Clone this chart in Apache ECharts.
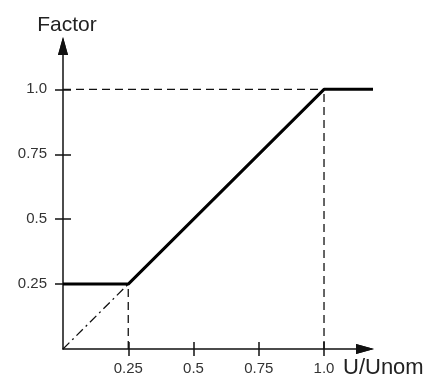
<html lang="en">

<head>
  <meta charset="utf-8">
  <title>Factor vs U/Unom</title>
  <script src="https://cdn.jsdelivr.net/npm/echarts@6/dist/echarts.min.js"></script>
  <style>
    body { margin: 0; background: #fff; }
    #chart { width: 431px; height: 379px; }
  </style>
</head>

<body>
  <div id="chart"></div>
</body>

<script>
  // characteristic curve
  var factorX = [0, 0.25, 1.0, 1.19];
  var factorY = [0.25, 0.25, 1.0, 1.0];

  // dashed guide lines
  var guideTopX = [0, 1.0];
  var guideTopY = [1.0, 1.0];
  var guideRightX = [1.0, 1.0];
  var guideRightY = [0, 1.0];
  var guideLeftX = [0.25, 0.25];
  var guideLeftY = [0, 0.25];

  // dash-dot diagonal
  var diagX = [0, 0.25];
  var diagY = [0, 0.25];

  var tickValues = [0.25, 0.5, 0.75, 1.0];

  function pairs(xs, ys) {
    return xs.map(function (x, i) { return [x, ys[i]]; });
  }

  var font = 'Liberation Sans, Arial, sans-serif';
  var fmt = function (v) { return v === 1 ? '1.0' : String(v); };

  var plot = echarts.init(document.getElementById('chart'));

  // second axis of each pair only draws the inner half of the ticks
  function xAxisDef(inside) {
    return {
      type: 'value', min: 0, max: 1.18, position: 'bottom',
      name: inside ? '' : 'U/Unom',
      nameLocation: 'end',
      nameGap: -28,
      nameTextStyle: {
        fontFamily: font, fontSize: 22, color: '#222',
        align: 'left', verticalAlign: 'top', padding: [8, 0, 0, 0]
      },
      axisLine: {
        show: true, symbol: ['none', 'triangle'], symbolSize: [10, 18],
        symbolOffset: [0, -6],
        lineStyle: { color: '#111', width: 1.5, opacity: inside ? 0 : 1 }
      },
      axisTick: {
        show: true, inside: inside, length: 7, customValues: tickValues,
        lineStyle: { color: '#111', width: 1.5, opacity: 1 }
      },
      axisLabel: {
        show: !inside, customValues: tickValues, margin: 12,
        fontFamily: font, fontSize: 15, color: '#333', formatter: fmt
      },
      splitLine: { show: false }
    };
  }

  function yAxisDef(inside) {
    return {
      type: 'value', min: 0, max: 1.19, position: 'left',
      name: inside ? '' : 'Factor',
      nameLocation: 'end',
      nameGap: 4,
      nameTextStyle: {
        fontFamily: font, fontSize: 21, color: '#222', align: 'center',
        padding: [0, 0, 0, 8]
      },
      axisLine: {
        show: true, symbol: ['none', 'triangle'], symbolSize: [10, 18],
        symbolOffset: [0, -6],
        lineStyle: { color: '#111', width: 1.5, opacity: inside ? 0 : 1 }
      },
      axisTick: {
        show: true, inside: inside, length: 8, customValues: tickValues,
        lineStyle: { color: '#111', width: 1.5, opacity: 1 }
      },
      axisLabel: {
        show: !inside, customValues: tickValues, margin: 16,
        fontFamily: font, fontSize: 15, color: '#333', formatter: fmt
      },
      splitLine: { show: false }
    };
  }

  function guide(xs, ys, dash) {
    return {
      type: 'line', data: pairs(xs, ys), showSymbol: false, silent: true,
      lineStyle: { color: '#111', width: 1.3, type: dash }
    };
  }

  option = {
    animation: false,
    grid: { left: 63, right: 60, top: 40, bottom: 29 },
    xAxis: [xAxisDef(false), xAxisDef(true)],
    yAxis: [yAxisDef(false), yAxisDef(true)],
    series: [
      guide(guideTopX, guideTopY, [8, 5]),
      guide(guideRightX, guideRightY, [8, 5]),
      guide(guideLeftX, guideLeftY, [8, 5]),
      guide(diagX, diagY, [9, 4, 2, 4]),
      {
        type: 'line', data: pairs(factorX, factorY), showSymbol: false,
        lineStyle: { color: '#000', width: 3 }
      }
    ]
  };
  plot.setOption(option = option)
</script>

</html>
